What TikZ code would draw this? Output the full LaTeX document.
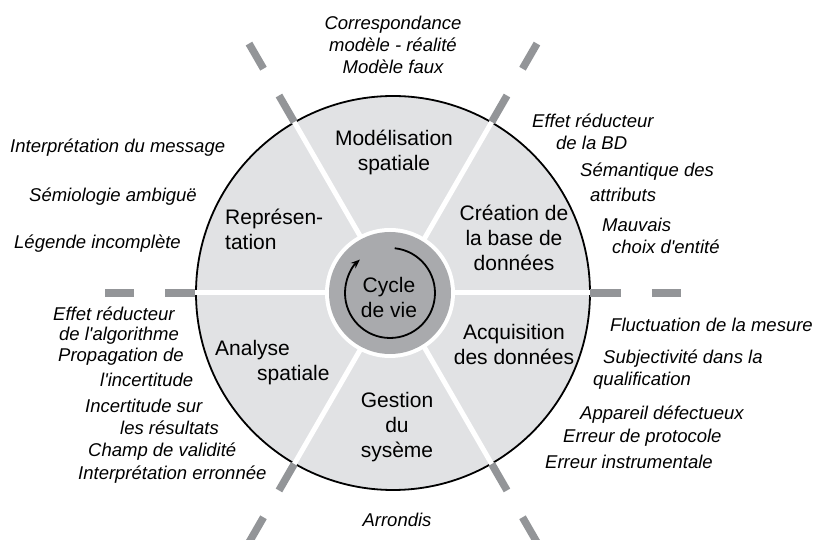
\documentclass[tikz,border=0pt]{standalone}
\usepackage{fontspec}
\setmainfont{Liberation Sans}
\usetikzlibrary{positioning,arrows.meta}
\definecolor{segfill}{RGB}{225,226,228}
\definecolor{hubfill}{RGB}{169,170,173}
\definecolor{tickgray}{RGB}{147,149,152}
\tikzset{phase node/.style={align=center,inner sep=0pt,font=\fontsize{21}{25}\selectfont},
  note node/.style={anchor=west,inner sep=0pt,font=\fontsize{18.5}{22}\selectfont\itshape},
  spoke/.style={white,line width=5pt},
  tick/.style={tickgray,line width=7.5pt} }

\begin{document}
\begin{tikzpicture}[x=1pt,y=1pt]
\useasboundingbox (-393,-247) rectangle (422,293);

  % wheel
  \coordinate (c) at (0,0);
  \coordinate (hub) at (-3,0);
  \fill[segfill] (c) circle (197);
  \draw[line width=1.8pt] (c) circle (197);
  \foreach \a in {0,60,...,300} {
    \draw[spoke] (c) -- (\a:198);
    \draw[tick] (\a:197.5) -- (\a:228);
    \draw[tick] (\a:259) -- (\a:288);
  }
  \fill[white] (hub) circle (65);
  \fill[hubfill] (hub) circle (61);
  \draw[line width=1.8pt,-{Stealth[length=9pt,width=7pt]}]
    ([shift={(84:45)}]hub) arc[start angle=84,end angle=-228,radius=45];

  % phases
  \node[phase node] (cycle) at (-4,-4) {Cycle\\de vie};
  \node[phase node] (model) at (1,141) {Modélisation\\spatiale};
  \node[phase node] (creation) at (121,55) {Création de\\la base de\\données};
  \node[phase node] (acquis) at (121,-51) {Acquisition\\des données};
  \node[phase node] (gestion) at (4,-134) {Gestion\\du\\sysème};
  \node[phase node,anchor=west,align=left] (analyse) at (-178,-70) {Analyse\\\hspace*{42pt}spatiale};
  \node[phase node,anchor=west,align=left] (repres) at (-168,64) {Représen-\\tation};

  % sources d'erreur
  \node[note node,anchor=center,align=center] (top) at (0,248) {Correspondance\\modèle - réalité\\Modèle faux};
  \node[note node] (l1) at (-383,145) {Interprétation du message};
  \node[note node] (l2) at (-364,96) {Sémiologie ambiguë};
  \node[note node] (l3) at (-379,49) {Légende incomplète};
  \node[note node] (r1) at (139,172) {Effet réducteur};
  \node[note node] (r2) at (163,150) {de la BD};
  \node[note node] (r3) at (187,121) {Sémantique des};
  \node[note node] (r4) at (197,98) {attributs};
  \node[note node] (r5) at (209,68) {Mauvais};
  \node[note node] (r6) at (219,46) {choix d\textquotesingle entité};
  \node[note node] (b1) at (-340,-21) {Effet réducteur};
  \node[note node] (b2) at (-334,-43) {de l\textquotesingle algorithme};
  \node[note node] (b3) at (-335,-64) {Propagation de};
  \node[note node] (b4) at (-293,-87) {l\textquotesingle incertitude};
  \node[note node] (b5) at (-308,-113) {Incertitude sur};
  \node[note node] (b6) at (-273,-135) {les résultats};
  \node[note node] (b7) at (-305,-159) {Champ de validité};
  \node[note node] (b8) at (-315,-182) {Interprétation erronnée};
  \node[note node] (d1) at (217,-32) {Fluctuation de la mesure};
  \node[note node] (d2) at (210,-66) {Subjectivité dans la};
  \node[note node] (d3) at (200,-88) {qualification};
  \node[note node] (d4) at (187,-122) {Appareil défectueux};
  \node[note node] (d5) at (170,-145) {Erreur de protocole};
  \node[note node] (d6) at (152,-169) {Erreur instrumentale};
  \node[note node,anchor=center] (bottom) at (4,-227) {Arrondis};
\end{tikzpicture}
\end{document}
